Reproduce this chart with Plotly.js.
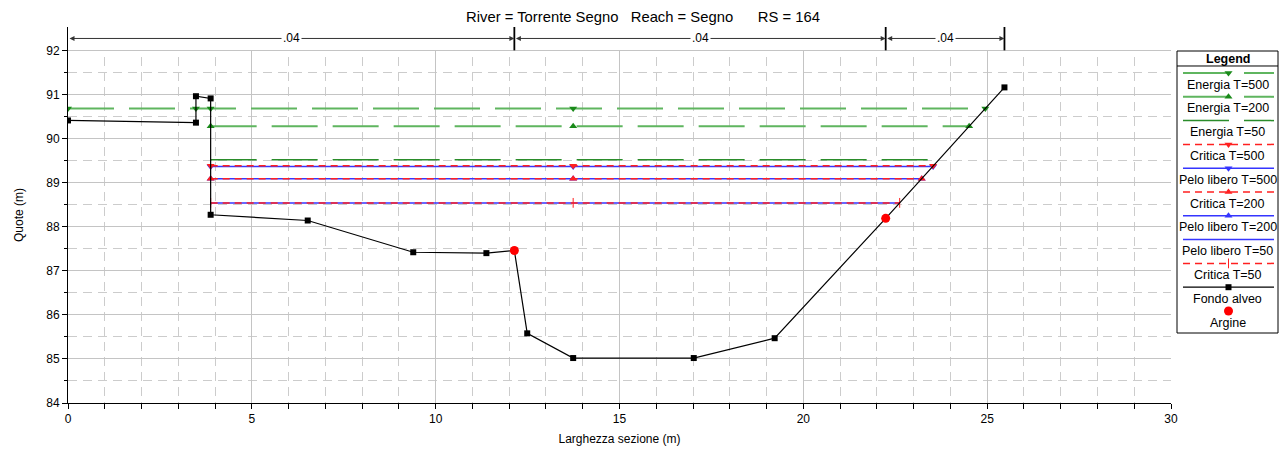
<!DOCTYPE html>
<html><head><meta charset="utf-8">
<script src="https://cdn.plot.ly/plotly-3.0.1.min.js"></script>
<style>html,body{margin:0;padding:0;background:#fff}</style>
</head><body>
<div id="chart" style="width:1286px;height:450px"></div>
<script>
// ---- data ----
const groundX = [0, 3.48, 3.48, 3.88, 3.88, 6.52, 9.39, 11.38, 12.14, 12.49, 13.74, 17.02, 19.22, 22.24, 25.47];
const groundY = [90.41, 90.36, 90.96, 90.91, 88.27, 88.14, 87.42, 87.40, 87.46, 85.58, 85.02, 85.02, 85.47, 88.19, 91.16];
const bankX = [12.14, 22.24];
const bankY = [87.46, 88.19];

const energiaNames = ['Energia T=500', 'Energia T=200', 'Energia T=50'];
const energiaLevels = [90.68, 90.28, 89.52];
const energiaStations = [[0, 3.48, 3.88, 13.74, 24.95], [3.88, 13.74, 24.51], [3.88, 23.69]];

const criticaNames = ['Critica T=500', 'Critica T=200', 'Critica T=50'];
const criticaLevels = [89.385, 89.09, 88.54];
const criticaStations = [[3.88, 13.74, 23.53], [3.88, 13.74, 23.22], [3.88, 13.74, 22.62]];

const peloNames = ['Pelo libero T=500', 'Pelo libero T=200', 'Pelo libero T=50'];
const peloLevels = [89.365, 89.09, 88.54];
const peloStations = [[3.88, 13.74, 23.53], [3.88, 13.74, 23.22], [3.88, 22.62]];

const nBreaks = [0, 12.14, 22.24, 25.47];
const nValues = ['.04', '.04', '.04'];
const nLevel = 92.27;

const legendOrder = ['Energia T=500', 'Energia T=200', 'Energia T=50', 'Critica T=500', 'Pelo libero T=500',
  'Critica T=200', 'Pelo libero T=200', 'Pelo libero T=50', 'Critica T=50', 'Fondo alveo', 'Argine'];

// ---- styles ----
const LG = '#5fb55f', DG = '#2a8c2a', RED = '#ff2020', BLUE = '#3535ff';
const style = {
  'Energia T=500': {mode: 'lines+markers', line: {color: LG, width: 2, dash: '46px,15px'}, marker: {symbol: 'triangle-down', size: 7, color: '#1a8a1a'}},
  'Energia T=200': {mode: 'lines+markers', line: {color: LG, width: 2, dash: '46px,15px'}, marker: {symbol: 'triangle-up', size: 7, color: '#1a8a1a'}},
  'Energia T=50': {mode: 'lines', line: {color: DG, width: 1.5, dash: '46px,15px'}},
  'Critica T=500': {mode: 'lines+markers', line: {color: RED, width: 1.5, dash: '7px,5px'}, marker: {symbol: 'triangle-down', size: 7, color: RED}},
  'Pelo libero T=500': {mode: 'lines+markers', line: {color: BLUE, width: 1.5}, marker: {symbol: 'triangle-down', size: 7, color: BLUE}},
  'Critica T=200': {mode: 'lines+markers', line: {color: RED, width: 1.5, dash: '7px,5px'}, marker: {symbol: 'triangle-up', size: 7, color: RED}},
  'Pelo libero T=200': {mode: 'lines+markers', line: {color: BLUE, width: 1.5}, marker: {symbol: 'triangle-up', size: 7, color: BLUE}},
  'Pelo libero T=50': {mode: 'lines', line: {color: BLUE, width: 1.5}},
  'Critica T=50': {mode: 'lines+markers', line: {color: RED, width: 1.5, dash: '7px,5px'}, marker: {symbol: 'line-ns', size: 7, color: RED, line: {color: RED, width: 1}}},
  'Fondo alveo': {mode: 'lines+markers', line: {color: '#000', width: 1.2}, marker: {symbol: 'square', size: 6, color: '#000'}},
  'Argine': {mode: 'markers', marker: {symbol: 'circle', size: 9, color: '#ff0000'}}
};

const traces = [];
function add(name, xs, ys) {
  const s = style[name];
  traces.push(Object.assign({type: 'scatter', name: name, x: xs, y: ys, xaxis: 'x', yaxis: 'y', showlegend: false, hoverinfo: 'x+y+name'}, JSON.parse(JSON.stringify(s))));
}
energiaNames.forEach((n, i) => add(n, energiaStations[i], energiaStations[i].map(() => energiaLevels[i])));
peloNames.forEach((n, i) => add(n, peloStations[i], peloStations[i].map(() => peloLevels[i])));
criticaNames.forEach((n, i) => add(n, criticaStations[i], criticaStations[i].map(() => criticaLevels[i])));
add('Fondo alveo', groundX, groundY);
add('Argine', bankX, bankY);

// ---- custom legend (samples on hidden axes x2/y2) ----
const FONT = 'Liberation Sans, Arial, sans-serif';
const annotations = [];
legendOrder.forEach((name, i) => {
  const s = style[name];
  const ly = 22 + 23.8 * i, ty = 33.5 + 23.8 * i;
  if (s.line) traces.push({type: 'scatter', mode: 'lines', x: [6, 97], y: [ly, ly], xaxis: 'x2', yaxis: 'y2', showlegend: false, hoverinfo: 'skip', line: JSON.parse(JSON.stringify(s.line))});
  if (s.marker) traces.push({type: 'scatter', mode: 'markers', x: [51.5], y: [ly], xaxis: 'x2', yaxis: 'y2', showlegend: false, hoverinfo: 'skip', marker: JSON.parse(JSON.stringify(s.marker))});
  annotations.push({xref: 'x2', yref: 'y2', x: 50.5, y: ty, text: name, showarrow: false, font: {family: FONT, size: 12.5, color: '#000'}});
});
annotations.push({xref: 'x2', yref: 'y2', x: 50.5, y: 7.5, text: '<b>Legend</b>', showarrow: false, font: {family: FONT, size: 12.5, color: '#000'}});

// Manning n annotations
for (let i = 0; i < nValues.length; i++) {
  annotations.push({xref: 'x', yref: 'y', axref: 'x', ayref: 'y', x: nBreaks[i + 1], y: nLevel, ax: nBreaks[i], ay: nLevel,
    text: '', showarrow: true, arrowhead: 2, arrowside: 'end+start', arrowsize: 1, arrowwidth: 1, arrowcolor: '#333', standoff: 0, startstandoff: 0});
  annotations.push({xref: 'x', yref: 'y', x: (nBreaks[i] + nBreaks[i + 1]) / 2, y: nLevel, text: nValues[i], showarrow: false,
    bgcolor: '#fff', borderpad: 1, font: {family: FONT, size: 12, color: '#000'}});
}

const shapes = [
  {type: 'rect', layer: 'between', xref: 'x', yref: 'y', x0: 0.04, x1: 30, y0: 92.01, y1: 92.6, fillcolor: '#fff', line: {width: 0}},
  {type: 'rect', xref: 'paper', yref: 'paper', x0: 0.91653, x1: 1.0, y0: 0.18617, y1: 0.93617, line: {color: '#000', width: 1}},
  {type: 'line', xref: 'paper', yref: 'paper', x0: 0.91653, x1: 1.0, y0: 0.8963, y1: 0.8963, line: {color: '#000', width: 1}}
];
for (let i = 1; i < nBreaks.length; i++) {
  shapes.push({type: 'line', xref: 'x', yref: 'y', x0: nBreaks[i], x1: nBreaks[i], y0: 92.0, y1: 92.53, line: {color: '#000', width: 1.8}});
}

const layout = {
  width: 1286, height: 450,
  margin: {l: 68, r: 8, t: 27, b: 47},
  paper_bgcolor: '#fff', plot_bgcolor: '#fff',
  showlegend: false,
  font: {family: FONT, size: 12, color: '#000'},
  title: {text: 'River = Torrente Segno\u00a0\u00a0 Reach = Segno\u00a0\u00a0\u00a0\u00a0\u00a0 RS = 164', font: {family: FONT, size: 14.8, color: '#000'},
    xref: 'container', x: 0.5, xanchor: 'center', yref: 'container', y: 0.962, yanchor: 'middle'},
  xaxis: {domain: [0, 1103 / 1210], range: [0, 30], tick0: 0, dtick: 5, ticks: 'outside', ticklen: 5, tickcolor: '#000',
    showline: true, linecolor: '#000', linewidth: 1, zeroline: false, showgrid: true, gridcolor: '#c4c4c4', gridwidth: 1,
    minor: {dtick: 1, ticks: 'outside', ticklen: 5, tickcolor: '#000', showgrid: true, gridcolor: '#cccccc', griddash: '9px,6px'},
    tickfont: {family: FONT, size: 12}, automargin: false, fixedrange: true,
    title: {text: 'Larghezza sezione (m)', font: {family: FONT, size: 12}, standoff: 9}},
  yaxis: {range: [84, 92.53], tick0: 84, dtick: 1, ticks: 'outside', ticklen: 5, tickcolor: '#000',
    showline: true, linecolor: '#000', linewidth: 1, zeroline: false, showgrid: true, gridcolor: '#c4c4c4', gridwidth: 1,
    tickmode: 'array', tickvals: [84, 85, 86, 87, 88, 89, 90, 91, 92],
    minor: {tickmode: 'array', tickvals: [84.5, 85.5, 86.5, 87.5, 88.5, 89.5, 90.5, 91.5], ticks: 'outside', ticklen: 3, tickcolor: '#000', showgrid: true, gridcolor: '#cccccc', griddash: '9px,6px'},
    tickfont: {family: FONT, size: 12}, automargin: false, fixedrange: true,
    title: {text: 'Quote (m)', font: {family: FONT, size: 12}, standoff: 20}},
  xaxis2: {domain: [0.91653, 1.0], range: [0, 101], anchor: 'y2', visible: false, fixedrange: true},
  yaxis2: {domain: [0.18617, 0.93617], range: [282, 0], anchor: 'x2', visible: false, fixedrange: true},
  annotations: annotations,
  shapes: shapes
};

Plotly.newPlot('chart', traces, layout, {displayModeBar: false, staticPlot: true});
</script>
</body></html>
